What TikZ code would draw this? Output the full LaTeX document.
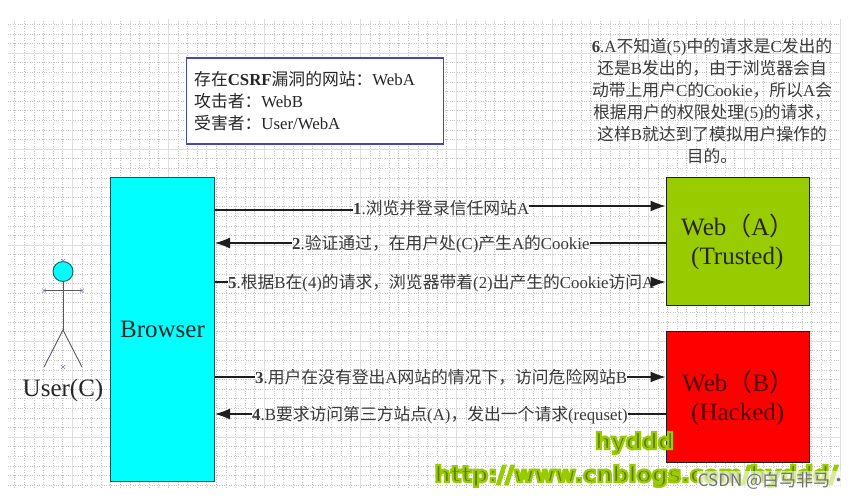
\documentclass[tikz,border=0pt]{standalone}
\usepackage{fontspec}
\setmainfont{Liberation Serif}
\newfontfamily\cjk{Noto Sans CJK SC}
\newfontfamily\wmfont{DejaVu Sans}
\usetikzlibrary{positioning,arrows.meta}
\definecolor{inktext}{HTML}{3A3A3A}
\definecolor{inkline}{HTML}{1E1E1E}
\definecolor{boxblue}{HTML}{4646B4}
\definecolor{browsercyan}{HTML}{00FFFF}
\definecolor{browseredge}{HTML}{0F5A5F}
\definecolor{trustgreen}{HTML}{99CC00}
\definecolor{hackred}{HTML}{FF0000}
\definecolor{markblue}{HTML}{7A78C8}
\definecolor{wmolive}{HTML}{5F7A10}
\newcommand{\zh}[1]{{\cjk #1}}
% outlined lettering for the overprinted marks
\newcommand{\halo}[1]{\special{pdf:code q 2 Tr 2.2 w 0.6 0.8 0 RG}#1\special{pdf:code Q}}

\begin{document}
\begin{tikzpicture}[
    x=1pt, y=-1pt,
    font=\fontsize{16.8}{22}\selectfont,
    site/.style={rectangle, draw=inkline, line width=1pt, inner sep=0pt},
    bigtxt/.style={font=\fontsize{25}{28}\selectfont, inner sep=0pt},
    steplbl/.style={color=inktext, inner sep=0pt, anchor=west, text height=12pt, text depth=3pt},
    arr/.style={-{Latex[length=15pt,width=11pt]}, line width=1.1pt, color=inkline},
    plain/.style={line width=1.1pt, color=inkline},
    limb/.style={line width=0.9pt, color=black!65},
    griddot/.style={color=black!24, line width=0.4pt, dotted},
    gridmajor/.style={color=black!13, line width=0.7pt},
    xmark/.style={color=markblue, line width=0.5pt},
    wmark/.style={inner sep=0pt, color=wmolive, font=\wmfont\bfseries\fontsize{22.5}{26}\selectfont}
]
\useasboundingbox (0,0) rectangle (866,500);
\fill[white] (0,0) rectangle (866,500);

% --- Paper grid ---
\draw[griddot, step=9.6pt, shift={(5,5)}] (3,14) grid (835,482);
\draw[gridmajor, step=96pt, shift={(72,53)}] (-64,-34) grid (768,434);

% --- Legend and note above the boxes ---
\node[draw=boxblue, fill=white, line width=1.2pt, minimum width=257pt, minimum height=86pt, inner sep=0pt] (legend) at (315,101) {};
\node[anchor=west, align=left, inner sep=0pt, color=black!85] (legendtxt) at (194,101)
    {\zh{存在}\textbf{CSRF}\zh{漏洞的网站：}WebA\\\zh{攻击者：}WebB\\\zh{受害者：}User/WebA};
\node[align=center, inner sep=0pt, color=inktext] (note) at (712,101)
    {\textbf{6}.A\zh{不知道}(5)\zh{中的请求是}C\zh{发出的}\\
     \zh{还是}B\zh{发出的，由于浏览器会自}\\
     \zh{动带上用户}C\zh{的}Cookie\zh{，所以}A\zh{会}\\
     \zh{根据用户的权限处理}(5)\zh{的请求，}\\
     \zh{这样}B\zh{就达到了模拟用户操作的}\\
     \zh{目的。}};

% --- Browser and the two sites ---
\node[site, fill=browsercyan, draw=browseredge, minimum width=104pt, minimum height=304pt] (browser) at (162.5,329) {};
\node[bigtxt, color=black!85] (browsertxt) at (162.5,329) {Browser};
\node[site, fill=trustgreen, minimum width=143pt, minimum height=128pt] (weba) at (737.5,241) {};
\node[bigtxt, anchor=west, color=black!85] (webatxt) at (681,226) {Web\zh{（}A\zh{）}};
\node[bigtxt, anchor=west, color=black!85] (trusted) at (691,258.5) {(Trusted)};
\node[site, fill=hackred, minimum width=143pt, minimum height=131pt] (webb) at (737.5,396.5) {};
\node[bigtxt, anchor=west, color=black!70!hackred] (webbtxt) at (682,382) {Web\zh{（}B\zh{）}};
\node[bigtxt, anchor=west, color=black!70!hackred] (hacked) at (691,414.5) {(Hacked)};

% --- Stick figure ---
\coordinate (neck) at (63,282);
\coordinate (hip) at (63,330);
\draw[limb] (neck) -- (hip);
\draw[limb] (44,290.5) -- (82,290.5);
\draw[limb] (44,367) -- (hip) -- (82,367);
\node[circle, draw=browseredge, fill=browsercyan, line width=0.9pt, minimum size=20pt, inner sep=0pt] (head) at (63,271.5) {};
\foreach \mx/\my in {44/290.5, 82/290.5, 63/367, 63/261}
    \draw[xmark] (\mx-2,\my-2) -- (\mx+2,\my+2) (\mx-2,\my+2) -- (\mx+2,\my-2);
\node[bigtxt, color=black!85] (user) at (63,390) {User(C)};

% --- Step labels ---
\node[steplbl] (lblone) at (353,209.5) {\textbf{1}.\zh{浏览并登录信任网站}A};
\node[steplbl] (lbltwo) at (292,244.5) {\textbf{2}.\zh{验证通过，在用户处}(C)\zh{产生}A\zh{的}Cookie};
\node[steplbl] (lblfive) at (228,283.5) {\textbf{5}.\zh{根据}B\zh{在}(4)\zh{的请求，浏览器带着}(2)\zh{出产生的}Cookie\zh{访问}A};
\node[steplbl] (lblthree) at (255,378.5) {\textbf{3}.\zh{用户在没有登出}A\zh{网站的情况下，访问危险网站}B};
\node[steplbl] (lblfour) at (252,415.5) {\textbf{4}.B\zh{要求访问第三方站点}(A)\zh{，发出一个请求}(requset)};

% --- Arrows, broken by their labels ---
\draw[plain] ([yshift=-0.5pt]browser.east |- lblone.west) -- ([yshift=-0.5pt]lblone.west);
\draw[arr] ([yshift=3.5pt]lblone.east) -- ([yshift=3.5pt]weba.west |- lblone.east);
\draw[arr] ([yshift=1.5pt]lbltwo.west) -- ([yshift=1.5pt]browser.east |- lbltwo.west);
\draw[plain] ([yshift=1.5pt]lbltwo.east) -- ([yshift=1.5pt]weba.west |- lbltwo.east);
\draw[plain] ([yshift=1.5pt]browser.east |- lblfive.west) -- ([yshift=1.5pt]lblfive.west);
\draw[arr] ([yshift=1.5pt]lblfive.east) -- ([yshift=1.5pt]weba.west |- lblfive.east);
\draw[plain] ([yshift=1.5pt]browser.east |- lblthree.west) -- ([yshift=1.5pt]lblthree.west);
\draw[arr] ([yshift=1.5pt]lblthree.east) -- ([yshift=1.5pt]webb.west |- lblthree.east);
\draw[arr] ([yshift=1.5pt]lblfour.west) -- ([yshift=1.5pt]browser.east |- lblfour.west);
\draw[plain] ([yshift=1.5pt]lblfour.east) -- ([yshift=1.5pt]webb.west |- lblfour.east);

% --- Overprinted marks along the bottom ---
\node[wmark] (wmname) at (634.5,443) {\halo{hyddd}};
\node[wmark] (wmurl) at (636,476) {\halo{http://www.cnblogs.com/hyddd/}};
\node[inner sep=1pt, fill=white, fill opacity=0.6, text opacity=1, text=black!55, font=\cjk\fontsize{17}{20}\selectfont] (wmcsdn) at (772.5,481) {CSDN @\zh{白马非马}·};
\end{tikzpicture}
\end{document}
